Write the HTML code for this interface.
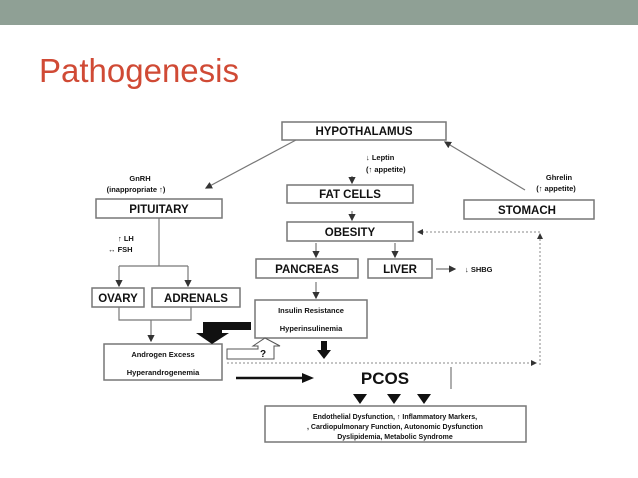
<!DOCTYPE html>
<html><head><meta charset="utf-8"><style>
html,body{margin:0;padding:0;background:#fff;width:638px;height:478px;overflow:hidden}
svg{display:block}
text{font-family:"Liberation Sans",Arial,sans-serif;font-weight:bold;fill:#111}
</style></head><body>
<svg width="638" height="478" viewBox="0 0 638 478" xmlns="http://www.w3.org/2000/svg">
<defs>
<marker id="a" markerWidth="6" markerHeight="6" refX="5" refY="3" orient="auto"><path d="M0,0 L6,3 L0,6 z" fill="#333"/></marker>
</defs>
<rect x="0" y="0" width="638" height="25" fill="#8fa095"/>
<text x="39" y="82" style="font-weight:normal;font-size:33px;fill:#d04a35">Pathogenesis</text>

<g fill="#fff" stroke="#777" stroke-width="1.5">
<rect x="282" y="122" width="164" height="18"/>
<rect x="287" y="185" width="126" height="18"/>
<rect x="96" y="199" width="126" height="19"/>
<rect x="464" y="200" width="130" height="19"/>
<rect x="287" y="222" width="126" height="19"/>
<rect x="256" y="259" width="102" height="19"/>
<rect x="368" y="259" width="64" height="19"/>
<rect x="92" y="288" width="52" height="19"/>
<rect x="152" y="288" width="88" height="19"/>
<rect x="255" y="300" width="112" height="38"/>
<rect x="104" y="344" width="118" height="36"/>
<rect x="265" y="406" width="261" height="36"/>
</g>

<g text-anchor="middle" font-size="11.5">
<text x="364" y="135">HYPOTHALAMUS</text>
<text x="350" y="198">FAT CELLS</text>
<text x="159" y="213">PITUITARY</text>
<text x="527" y="214">STOMACH</text>
<text x="350" y="236">OBESITY</text>
<text x="307" y="273">PANCREAS</text>
<text x="400" y="273">LIVER</text>
<text x="118" y="302">OVARY</text>
<text x="196" y="302">ADRENALS</text>
<text x="385" y="384" font-size="17">PCOS</text>
</g>
<g text-anchor="middle" font-size="7.5">
<text x="311" y="313">Insulin Resistance</text>
<text x="311" y="331">Hyperinsulinemia</text>
<text x="163" y="357">Androgen Excess</text>
<text x="163" y="375">Hyperandrogenemia</text>
<text x="395" y="419" font-size="7">Endothelial Dysfunction, ↑ Inflammatory Markers,</text>
<text x="395" y="429" font-size="7">, Cardiopulmonary Function, Autonomic Dysfunction</text>
<text x="395" y="439" font-size="7">Dyslipidemia, Metabolic Syndrome</text>
<text x="140" y="181">GnRH</text>
<text x="136" y="192">(inappropriate ↑)</text>
<text x="559" y="180">Ghrelin</text>
<text x="556" y="191">(↑ appetite)</text>
</g>
<g font-size="7.5">
<text x="366" y="160">↓ Leptin</text>
<text x="366" y="172">(↑ appetite)</text>
<text x="118" y="241">↑ LH</text>
<text x="108" y="252">↔ FSH</text>
<text x="465" y="272">↓ SHBG</text>
</g>

<g stroke="#777" stroke-width="1.2" fill="none">
<line x1="296" y1="140" x2="206" y2="188" marker-end="url(#a)"/>
<line x1="525" y1="190" x2="445" y2="142" marker-end="url(#a)"/>
<line x1="159" y1="218" x2="159" y2="266"/>
<line x1="119" y1="266" x2="188" y2="266"/>
<line x1="119" y1="266" x2="119" y2="286" marker-end="url(#a)"/>
<line x1="188" y1="266" x2="188" y2="286" marker-end="url(#a)"/>
<polyline points="119,307 119,320 191,320 191,307"/>
<line x1="151" y1="320" x2="151" y2="341" marker-end="url(#a)"/>
<line x1="352" y1="176" x2="352" y2="183" marker-end="url(#a)"/>
<line x1="352" y1="211" x2="352" y2="220" marker-end="url(#a)"/>
<line x1="316" y1="243" x2="316" y2="257" marker-end="url(#a)"/>
<line x1="395" y1="243" x2="395" y2="257" marker-end="url(#a)"/>
<line x1="316" y1="282" x2="316" y2="298" marker-end="url(#a)"/>
<line x1="436" y1="269" x2="455" y2="269" marker-end="url(#a)"/>
<line x1="451" y1="367" x2="451" y2="389"/>
</g>
<g stroke="#888" stroke-width="1" fill="none" stroke-dasharray="2,2">
<line x1="227" y1="363" x2="536" y2="363" marker-end="url(#a)"/>
<line x1="540" y1="365" x2="540" y2="234" marker-end="url(#a)"/>
<line x1="540" y1="232" x2="418" y2="232" marker-end="url(#a)"/>
</g>

<path d="M251,322 L203,322 L203,333 L196,333 L212,344 L229,333 L222,333 L222,330 L251,330 Z" fill="#111"/>
<path d="M227,349 L258,349 L258,346 L253,346 L265,338 L280,346 L274,346 L274,359 L227,359 Z" fill="#fff" stroke="#555" stroke-width="1"/>
<text x="260" y="357" font-size="10">?</text>
<path d="M321,341 L327,341 L327,350 L331,350 L324,359 L317,350 L321,350 Z" fill="#111"/>
<line x1="236" y1="378" x2="304" y2="378" stroke="#111" stroke-width="2.5"/>
<path d="M302,373 L314,378 L302,383 Z" fill="#111"/>
<path d="M353,394 L367,394 L360,404 Z M387,394 L401,394 L394,404 Z M417,394 L431,394 L424,404 Z" fill="#111"/>
</svg>
</body></html>
